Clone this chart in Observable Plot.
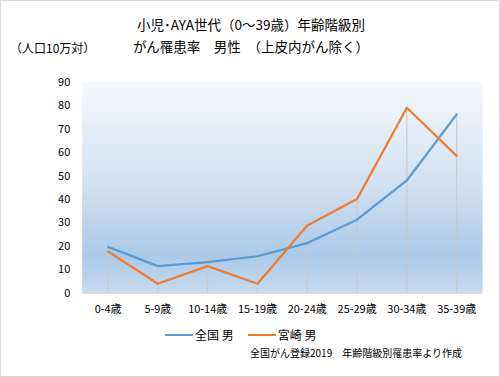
<!DOCTYPE html>
<html>
<head>
<meta charset="utf-8">
<script src="https://cdn.jsdelivr.net/npm/d3@7"></script>
<script src="https://cdn.jsdelivr.net/npm/@observablehq/plot@0.6"></script>
<style>
  html, body { margin: 0; padding: 0; background: #fff; }
  #wrap { position: relative; width: 500px; height: 377px; box-sizing: border-box; border: 1px solid #d9d9d9; font-family: "Noto Sans CJK JP", sans-serif; color: #000; overflow: hidden; }
  #wrap svg { position: absolute; left: -1px; top: -1px; }
  .t { position: absolute; white-space: nowrap; }
</style>
</head>
<body>
<div id="wrap">
  <div class="t" style="left:0;width:500px;text-align:center;top:15px;font-size:13.5px;line-height:16px;">小児･AYA世代（0～39歳）年齢階級別</div>
  <div class="t" style="left:0;width:500px;text-align:center;top:37px;font-size:13.5px;line-height:16px;">がん罹患率　男性　（上皮内がん除く）</div>
  <div class="t" style="left:9px;top:39px;font-size:12px;line-height:16px;">（人口10万対）</div>
  <div class="t" id="legend" style="left:164px;top:326px;font-size:12px;line-height:16px;display:flex;align-items:center;"></div>
  <div class="t" style="left:249px;top:345px;font-size:10px;line-height:14px;">全国がん登録2019　年齢階級別罹患率より作成</div>
</div>
<script>
const ages = ["0-4歳","5-9歳","10-14歳","15-19歳","20-24歳","25-29歳","30-34歳","35-39歳"];
const national = [19.8, 11.6, 13.3, 15.8, 21.4, 31.4, 48.1, 76.3];
const miyazaki = [17.8, 4.1, 11.6, 4.1, 28.9, 40.2, 79.1, 58.6];
const seriesNames = ["全国 男", "宮崎 男"];
const seriesColors = ["#5b9bd5", "#ed7d31"];
const yTicks = [0,10,20,30,40,50,60,70,80,90];

const rows = [];
ages.forEach((a, i) => {
  rows.push({age: a, value: national[i], series: seriesNames[0]});
  rows.push({age: a, value: miyazaki[i], series: seriesNames[1]});
});
const drops = ages.map((a, i) => ({age: a, value: Math.max(national[i], miyazaki[i])}));

const chart = Plot.plot({
  width: 500,
  height: 377,
  marginTop: 82,
  marginBottom: 83,
  marginLeft: 82,
  marginRight: 16,
  style: {fontFamily: "'Noto Sans CJK JP', sans-serif", fontSize: "11px", background: "transparent", overflow: "visible"},
  x: {type: "band", domain: ages, padding: 0, label: null, tickSize: 0, tickPadding: 12},
  y: {domain: [0, 90], ticks: yTicks, label: null, tickSize: 0, tickPadding: 12},
  color: {domain: seriesNames, range: seriesColors},
  marks: [
    Plot.frame({fill: "url(#bgGrad)", stroke: null}),
    Plot.ruleX(drops, {x: "age", y1: 0, y2: "value", stroke: "#c8c8c8", strokeWidth: 1}),
    Plot.ruleY([0], {stroke: "#d9d9d9", strokeWidth: 1}),
    Plot.line(rows, {x: "age", y: "value", z: "series", stroke: "series", strokeWidth: 2.25, strokeLinejoin: "round", strokeLinecap: "round"})
  ]
});

const svg = d3.select(chart);
const defs = svg.insert("defs", ":first-child");
const g = defs.append("linearGradient").attr("id", "bgGrad").attr("x1", 0).attr("y1", 0).attr("x2", 0).attr("y2", 1);
g.append("stop").attr("offset", "0%").attr("stop-color", "#f5f8fc");
g.append("stop").attr("offset", "50%").attr("stop-color", "#cfe0f1");
g.append("stop").attr("offset", "82%").attr("stop-color", "#abc9e7");
g.append("stop").attr("offset", "100%").attr("stop-color", "#c6dbef");
svg.selectAll("[aria-label='x-axis tick label'] text, [aria-label='y-axis tick label'] text").attr("fill", "#000");

document.getElementById("wrap").prepend(chart);

const legend = document.getElementById("legend");
seriesNames.forEach((name, i) => {
  const item = document.createElement("span");
  item.style.display = "inline-flex";
  item.style.alignItems = "center";
  item.style.marginRight = i === 0 ? "14px" : "0";
  const sw = document.createElement("span");
  sw.style.display = "inline-block";
  sw.style.width = "28px";
  sw.style.height = "2.5px";
  sw.style.background = seriesColors[i];
  sw.style.marginRight = "2px";
  item.appendChild(sw);
  item.appendChild(document.createTextNode(name));
  legend.appendChild(item);
});
</script>
</body>
</html>
